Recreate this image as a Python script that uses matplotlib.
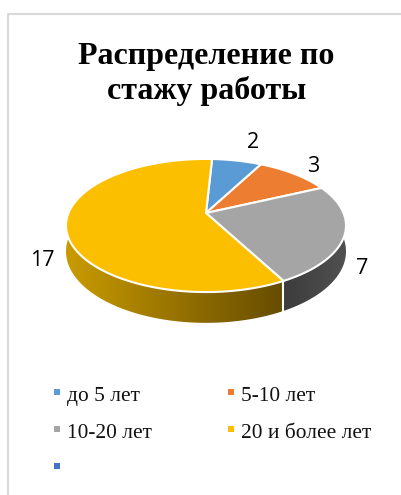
import matplotlib
matplotlib.use('Agg')
import matplotlib.pyplot as plt
from matplotlib.colors import LinearSegmentedColormap
from matplotlib.patches import Polygon
import numpy as np

# Данные
categories = ['до 5 лет', '5-10 лет', '10-20 лет', '20 и более лет', '']
values = [2, 3, 7, 17]
colors = ['#5B9BD5', '#ED7D31', '#A5A5A5', '#FBBF00', '#4472C4']
title_lines = ['Распределение по', 'стажу работы']

# Геометрия "3D" круга в пикселях
CX, CY = 206, 213
RX, RY = 137.5, 64.2
PERSP = 0.188
DEPTH = 25
START = 3

fig = plt.figure(figsize=(4.01, 4.95), dpi=100)
ax = fig.add_axes([0, 0, 1, 1])


def project(angle, drop=0):
    # угол по часовой стрелке от дальней точки круга
    t = np.radians(angle)
    u, v = np.sin(t), np.cos(t)
    s = 1 / (1 + PERSP * v)
    return CX + RX * u * s, CY - RY * v * s + drop * s


def side_poly(a0, a1):
    ang = np.linspace(a0, a1, 200)
    xt, yt = project(ang)
    xb, yb = project(ang, DEPTH)
    return np.column_stack([np.r_[xt, xb[::-1]], np.r_[yt, yb[::-1]]])


def draw_side(a0, a1, col_left, col_right, x0, x1):
    poly = Polygon(side_poly(a0, a1), closed=True, fc='none', ec='none')
    ax.add_patch(poly)
    cmap = LinearSegmentedColormap.from_list('side', [col_left, col_right])
    img = ax.imshow(np.linspace(0, 1, 256).reshape(1, -1), cmap=cmap, aspect='auto',
                    extent=[x0, x1, 340, 180], zorder=2)
    img.set_clip_path(poly)


edges = START + np.r_[0, np.cumsum(values)] / sum(values) * 360

# Боковая стенка
draw_side(edges[2], edges[3], '#3C3C3C', '#505050', 283, 346)
draw_side(edges[3], edges[4], '#C99B00', '#664C00', 66, 283)
ex, ey = project(edges[3])
ex2, ey2 = project(edges[3], DEPTH)
ax.plot([ex, ex2], [ey, ey2], color='white', lw=1.5, zorder=3)

# Верхняя грань
for i, val in enumerate(values):
    ang = np.linspace(edges[i], edges[i + 1], 150)
    xs, ys = project(ang)
    pts = np.column_stack([np.r_[CX, xs], np.r_[CY, ys]])
    ax.add_patch(Polygon(pts, closed=True, fc=colors[i], ec='white', lw=1.5,
                         joinstyle='round', zorder=4))

# Подписи значений
label_pos = [(253, 142), (313, 167), (362, 269), (42, 261)]
for val, (lx, ly) in zip(values, label_pos):
    ax.text(lx, ly, str(val), fontsize=15.5, family='Open Sans', color='black',
            ha='center', va='center', zorder=5)

# Заголовок
ax.text(206, 64, title_lines[0], fontsize=23, family='Liberation Serif', weight='bold',
        ha='center', va='baseline')
ax.text(206.5, 99, title_lines[1], fontsize=23, family='Liberation Serif', weight='bold',
        ha='center', va='baseline')

# Легенда
leg_x = [57, 231, 57, 231, 57]
leg_y = [392, 392, 429, 429, 466]
for name, col, lx, ly in zip(categories, colors, leg_x, leg_y):
    ax.scatter([lx], [ly], s=18, marker='s', color=col, linewidths=0, zorder=5)
    if name:
        ax.text(lx + 10, ly + 9, name, fontsize=15.4, family='Liberation Serif',
                color='#111111', ha='left', va='baseline')

# Рамка области диаграммы
ax.plot([7.5, 7.5, 401], [495, 13.5, 13.5], color='#D9D9D9', lw=1.5, zorder=1)

ax.set_xlim(0, 401)
ax.set_ylim(495, 0)
ax.axis('off')
fig.savefig('out.png', dpi=100)
